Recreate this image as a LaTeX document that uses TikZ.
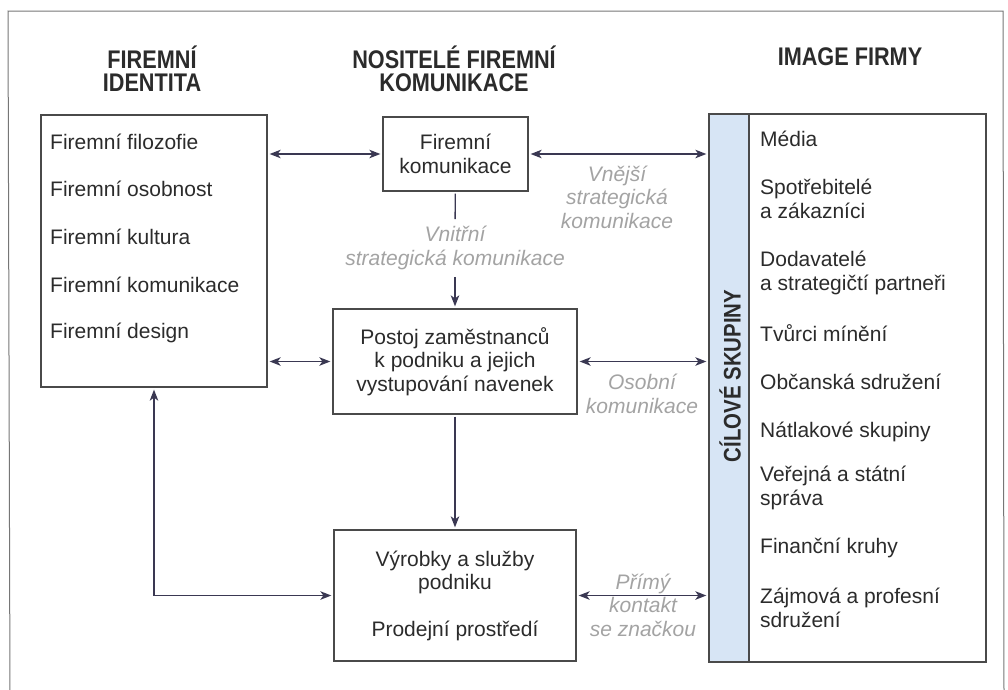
\documentclass[tikz,border=0pt]{standalone}
\usepackage{fontspec}
\setmainfont{Liberation Sans}
\newfontfamily\headfont[FakeStretch=0.85]{Liberation Sans}
\usepackage{tikz}
\usetikzlibrary{arrows.meta}
\definecolor{ink}{HTML}{2B2B2B}
\definecolor{boxline}{HTML}{4A4A4A}
\definecolor{outline}{HTML}{767676}
\definecolor{arrowc}{HTML}{3A3852}
\definecolor{notegray}{HTML}{A3A3A3}
\definecolor{stripblue}{HTML}{D7E5F5}
\tikzstyle{box}=[draw=boxline, line width=1.3pt, rectangle, text=ink, align=center, inner sep=0pt, font=\fontsize{21}{23.5}\selectfont]
\tikzstyle{item}=[anchor=west, inner sep=0pt, text=ink, align=left, font=\fontsize{21}{23.5}\selectfont]
\tikzstyle{head}=[text=ink, align=center, inner sep=0pt, font=\headfont\bfseries\fontsize{25.5}{23}\selectfont]
\tikzstyle{notelabel}=[text=notegray, align=center, inner sep=0pt, font=\itshape\fontsize{21}{23.5}\selectfont]
\tikzstyle{arr}=[draw=arrowc, line width=1.4pt, shorten >=2pt, shorten <=2pt, >={Stealth[length=11pt,width=8.5pt,inset=3pt]}]

\begin{document}
\begin{tikzpicture}[x=1pt,y=-1pt]
\useasboundingbox (0,0) rectangle (1008,689);
\draw[outline, line width=1pt] (10,700) -- (8,11) -- (1003,11) -- (1004,700);

\node[head] (h-identita) at (152,69) {FIREMNÍ\\IDENTITA};
\node[head] (h-nositele) at (454,69) {NOSITELÉ FIREMNÍ\\KOMUNIKACE};
\node[head] (h-image) at (850,57) {IMAGE FIRMY};

\node[box, minimum width=226pt, minimum height=272pt] (identita) at (154,251) {};
\foreach \y/\t [count=\i] in {142/Firemní filozofie, 189/Firemní osobnost, 237/Firemní kultura, 285/Firemní komunikace, 333/Firemní design}
  \node[item] (identita-\i) at (50,\y) {\t};

\node[box, minimum width=145pt, minimum height=74pt] (fk) at (455.5,154) {Firemní\\komunikace};
\node[box, minimum width=244pt, minimum height=105pt] (postoj) at (455,361.5) {Postoj zaměstnanců\\k podniku a jejich\\vystupování navenek};
\node[box, minimum width=242pt, minimum height=131pt] (vyrobky) at (455,595.5) {Výrobky a služby\\podniku\\[23pt]Prodejní prostředí};

\node[draw=boxline, fill=stripblue, line width=1.3pt, minimum width=40pt, minimum height=548pt, inner sep=0pt] (strip) at (729,388) {};
\node[box, minimum width=277pt, minimum height=548pt] (cilove) at (847.5,388) {};
\node[head, rotate=90, font=\headfont\bfseries\fontsize{24}{24}\selectfont] (cilove-label) at (730,376) {CÍLOVÉ SKUPINY};
\foreach \y/\t [count=\i] in {139/Média, 199/{Spotřebitelé\\a zákazníci}, 273/{Dodavatelé\\a strategičtí partneři}, 333/Tvůrci mínění, 382/Občanská sdružení, 432/Nátlakové skupiny, 488/{Veřejná a státní\\správa}, 548/Finanční kruhy, 608/{Zájmová a profesní\\sdružení}}
  \node[item] (cilove-\i) at (760,\y) {\t};

\node[notelabel] (vnejsi) at (617,197) {Vnější\\strategická\\komunikace};
\node[notelabel, inner sep=5pt] (vnitrni) at (455,248) {Vnitřní\\strategická komunikace};
\node[notelabel] (osobni) at (642,394) {Osobní\\komunikace};
\node[notelabel] (primy) at (643,605) {Přímý\\kontakt\\se značkou};

\draw[arr,<->] (identita.east |- fk.west) -- (fk.west);
\draw[arr,<->] (fk.east) -- (fk.east -| cilove.west);
\draw[arr,<->] (identita.east |- postoj.west) -- (postoj.west);
\draw[arr,<->] (postoj.east) -- (postoj.east -| cilove.west);
\draw[arr,<->] (vyrobky.east) -- (vyrobky.east -| cilove.west);
\draw[arr] (fk) -- (vnitrni);
\draw[arr,->] (vnitrni) -- (postoj);
\draw[arr,->] (postoj) -- (vyrobky);
\draw[arr,<->] (identita.south) |- (vyrobky.west);
\end{tikzpicture}
\end{document}
